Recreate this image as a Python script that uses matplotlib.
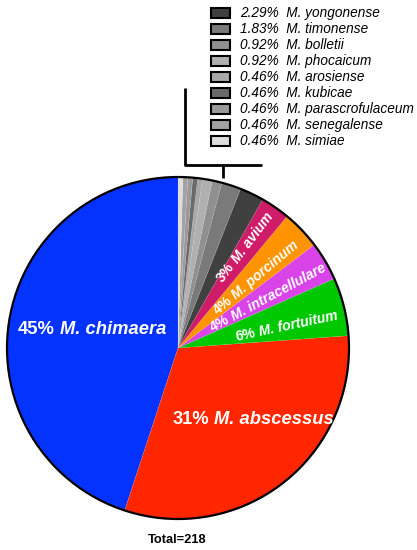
import math
import matplotlib
matplotlib.use("Agg")
import matplotlib.pyplot as plt
from matplotlib.patches import Circle, Rectangle

plt.rcParams['font.family'] = ['Liberation Sans', 'DejaVu Sans']

# ---- data (isolate counts, total = 218) ----
species = ["M. chimaera", "M. abscessus", "M. fortuitum", "M. intracellulare",
           "M. porcinum", "M. avium", "M. yongonense", "M. timonense",
           "M. bolletii", "M. phocaicum", "M. arosiense", "M. kubicae",
           "M. parascrofulaceum", "M. senegalense", "M. simiae"]
counts = [98, 68, 12, 8, 8, 6, 5, 4, 2, 2, 1, 1, 1, 1, 1]
pct_labels = ["45%", "31%", "6%", "4%", "4%", "3%", "2.29%", "1.83%",
              "0.92%", "0.92%", "0.46%", "0.46%", "0.46%", "0.46%", "0.46%"]
colors = ["#0433ff", "#ff2600", "#00c800", "#d944e8", "#ff9300", "#cf1b68",
          "#404040", "#7a7a7a", "#909090", "#b0b0b0", "#a8a8a8", "#6a6a6a",
          "#9a9a9a", "#a2a2a2", "#dedede"]
total_label = "Total=218"

W, H = 417, 550
fig = plt.figure(figsize=(W / 100, H / 100), dpi=100)
ax = fig.add_axes([0, 0, 1, 1])

def Y(y):
    return H - y

cx, cy, R = 178, Y(348), 171
ax.pie(counts, colors=colors, startangle=90, counterclock=True,
       center=(cx, cy), radius=R,
       wedgeprops=dict(linewidth=0.3, edgecolor=(1, 1, 1, 0.15)))
ax.add_patch(Circle((cx, cy), R, fill=False, edgecolor='black', linewidth=1.6, zorder=5))

ax.set_xlim(0, W)
ax.set_ylim(0, H)
ax.set_aspect('equal')
ax.axis('off')

renderer = fig.canvas.get_renderer()

def label(i, x, y, size, rot):
    """Upright bold percentage followed by bold-italic species name, centred at (x, y) px."""
    t1 = ax.text(0, 0, pct_labels[i], color='white', fontsize=size, fontweight='bold',
                 ha='left', va='center', zorder=6)
    t2 = ax.text(0, 0, species[i], color='white', fontsize=size, fontweight='bold',
                 fontstyle='italic', ha='left', va='center', zorder=6)
    w1 = t1.get_window_extent(renderer).width
    w2 = t2.get_window_extent(renderer).width
    gap = 0.278 * size * 100 / 72
    wt = w1 + gap + w2
    c, s = math.cos(math.radians(rot)), math.sin(math.radians(rot))
    x0, y0 = x - wt / 2 * c, Y(y) - wt / 2 * s
    t1.set_position((x0, y0))
    t2.set_position((x0 + (w1 + gap) * c, y0 + (w1 + gap) * s))
    for t in (t1, t2):
        t.set_rotation(rot)
        t.set_rotation_mode('anchor')

label(0, 92, 330, 13.2, 0)
label(1, 253, 419, 13.2, 0)
label(2, 287, 326, 10, 12)
label(3, 268, 298, 10, 28.5)
label(4, 256, 278, 10, 40)
label(5, 245, 247, 10, 53)

# legend for the small (grey) slices
for k, i in enumerate(range(6, 15)):
    yc = 13 + 16 * k
    ax.add_patch(Rectangle((211, Y(yc + 5)), 19, 10, facecolor=colors[i],
                           edgecolor='black', linewidth=1.5, zorder=6))
    ax.text(240, Y(yc), pct_labels[i] + "  " + species[i], fontsize=9.8,
            fontstyle='italic', ha='left', va='center', color='black')

# bracket
ax.plot([185, 185, 262], [Y(88), Y(165), Y(165)], color='black', lw=2, solid_capstyle='butt')
ax.plot([223, 223], [Y(165), Y(178)], color='black', lw=2, solid_capstyle='butt')

ax.text(177, Y(540), total_label, fontsize=9.3, fontweight='bold',
        ha='center', va='center', color='black')

fig.savefig("out.png", dpi=100)
